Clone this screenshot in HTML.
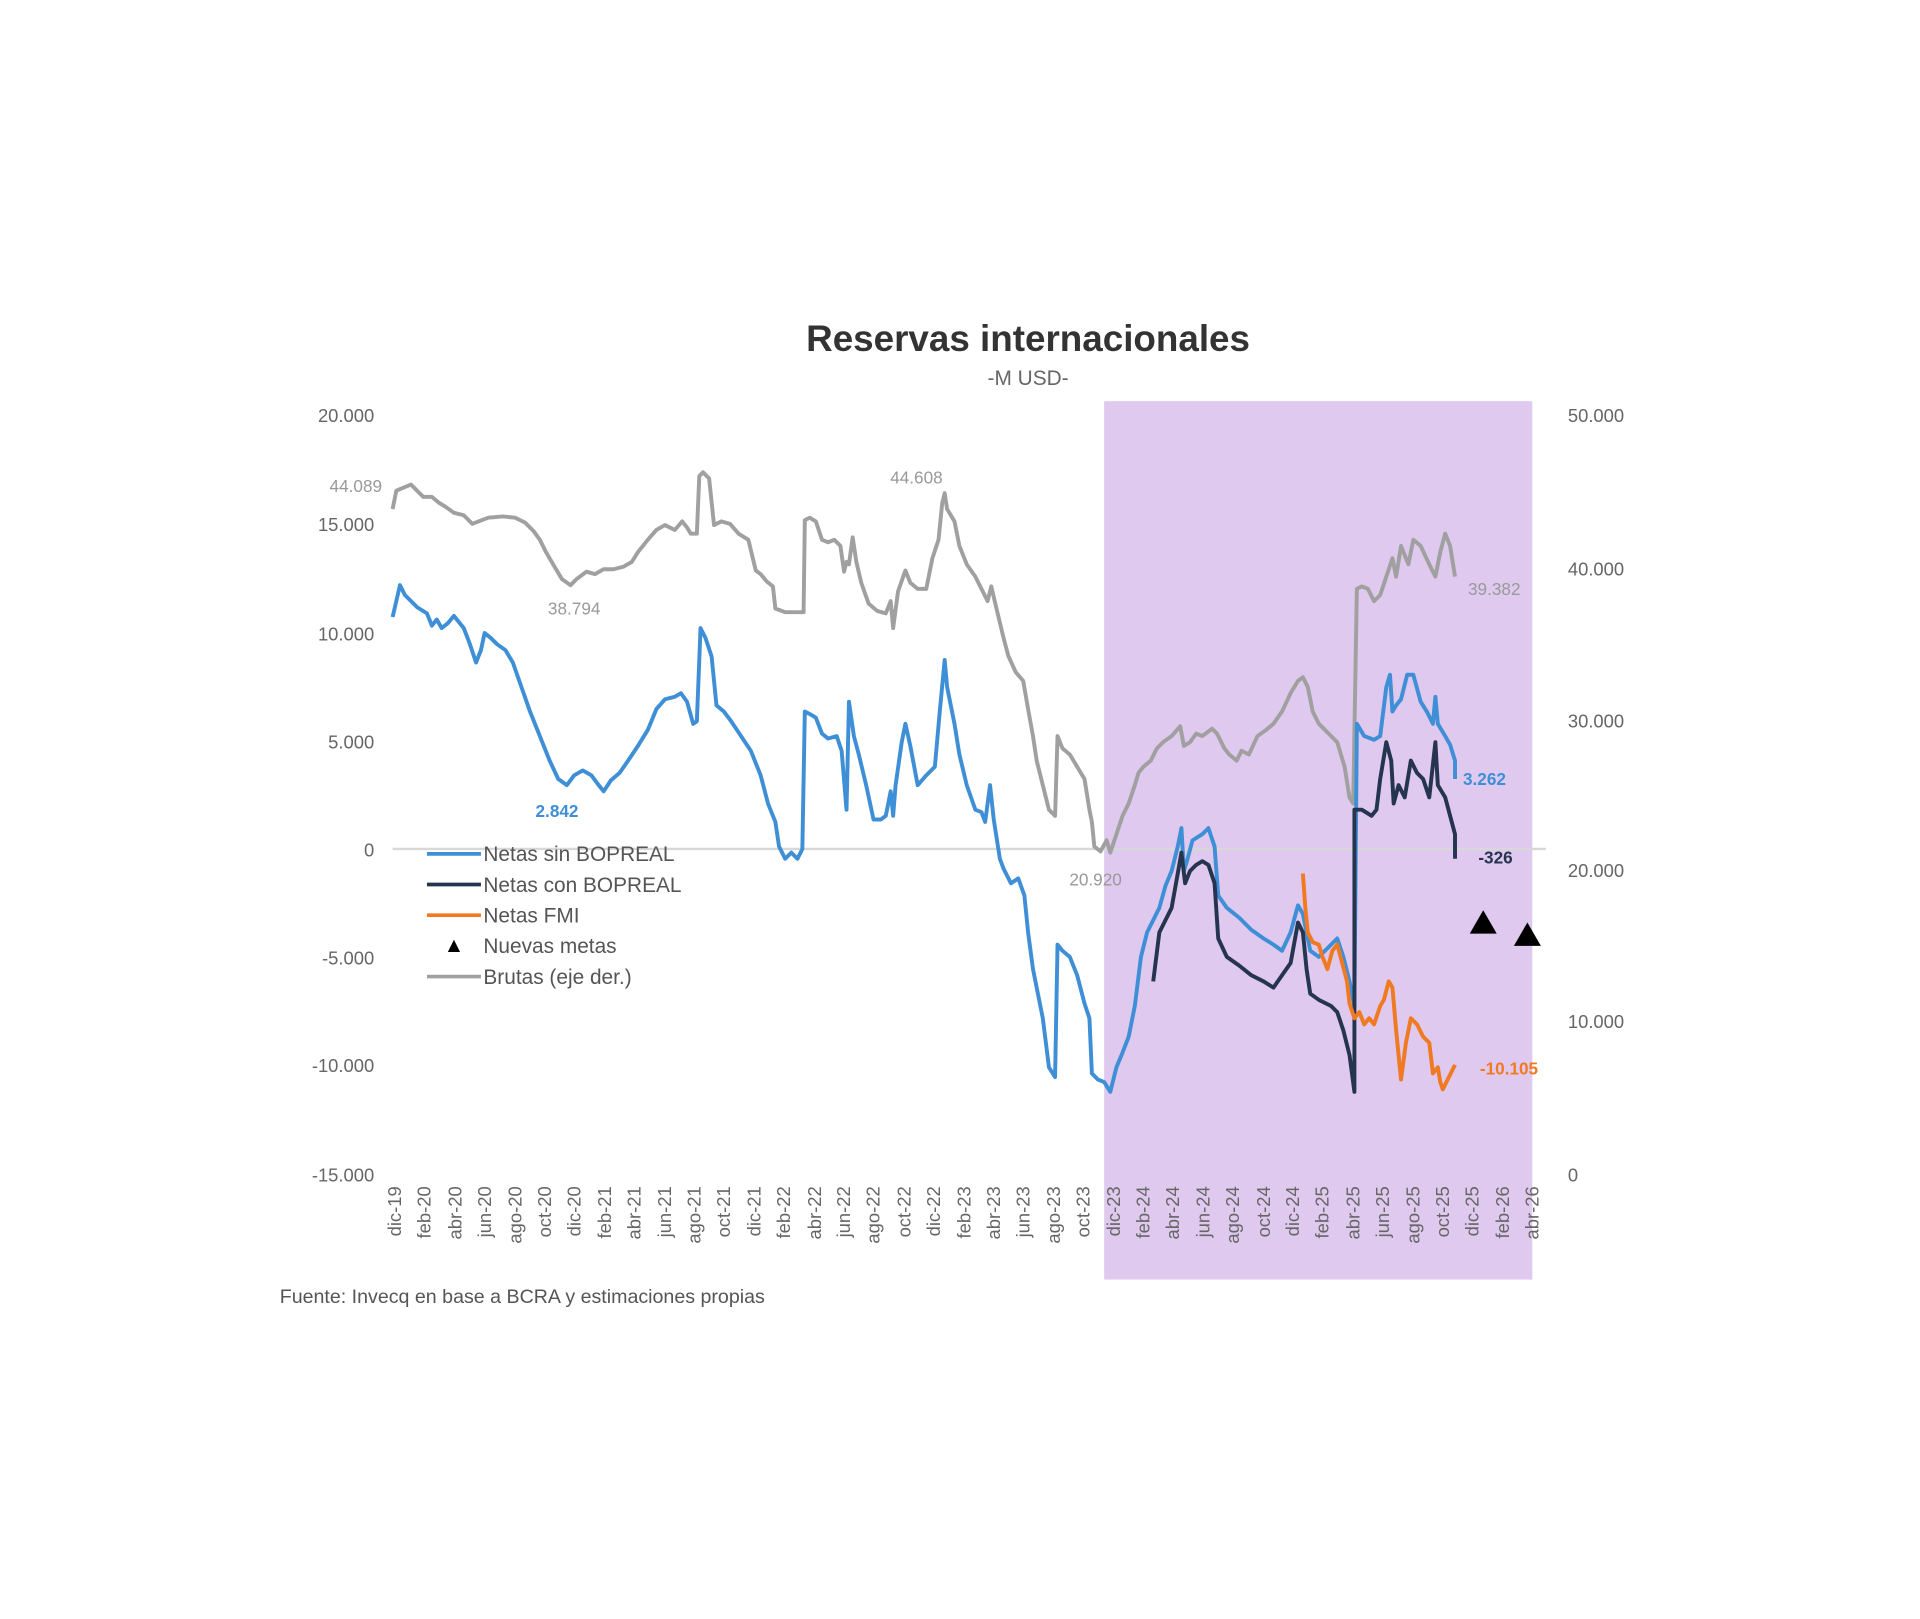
<!DOCTYPE html>
<html><head><meta charset="utf-8"><style>
html,body{margin:0;padding:0;background:#fff;width:1920px;height:1619px;overflow:hidden}
svg{display:block}
text{font-family:"Liberation Sans",sans-serif}
</style></head><body>
<svg width="1920" height="1619" viewBox="0 0 1565 1319.7" xmlns="http://www.w3.org/2000/svg">
<rect x="900" y="327" width="349" height="716" fill="#dfc9ee"/>
<text x="838" y="286" text-anchor="middle" font-size="30" font-weight="bold" fill="#333">Reservas internacionales</text>
<text x="838" y="314" text-anchor="middle" font-size="17" fill="#666">-M USD-</text>
<g font-size="15" fill="#666" text-anchor="end">
<text x="305" y="344">20.000</text><text x="305" y="433">15.000</text><text x="305" y="522">10.000</text>
<text x="305" y="610">5.000</text><text x="305" y="698">0</text><text x="305" y="786">-5.000</text>
<text x="305" y="874">-10.000</text><text x="305" y="963">-15.000</text>
</g>
<g font-size="15" fill="#666">
<text x="1278" y="344">50.000</text><text x="1278" y="469">40.000</text><text x="1278" y="593">30.000</text>
<text x="1278" y="715">20.000</text><text x="1278" y="838">10.000</text><text x="1278" y="963">0</text>
</g>
<line x1="320" y1="692" x2="1260" y2="692" stroke="#d8d8d8" stroke-width="2"/>
<g font-size="15" fill="#666" text-anchor="end">
<text transform="translate(327,967) rotate(-90)">dic-19</text>
<text transform="translate(351,967) rotate(-90)">feb-20</text>
<text transform="translate(376,967) rotate(-90)">abr-20</text>
<text transform="translate(400,967) rotate(-90)">jun-20</text>
<text transform="translate(425,967) rotate(-90)">ago-20</text>
<text transform="translate(449,967) rotate(-90)">oct-20</text>
<text transform="translate(473,967) rotate(-90)">dic-20</text>
<text transform="translate(498,967) rotate(-90)">feb-21</text>
<text transform="translate(522,967) rotate(-90)">abr-21</text>
<text transform="translate(547,967) rotate(-90)">jun-21</text>
<text transform="translate(571,967) rotate(-90)">ago-21</text>
<text transform="translate(595,967) rotate(-90)">oct-21</text>
<text transform="translate(620,967) rotate(-90)">dic-21</text>
<text transform="translate(644,967) rotate(-90)">feb-22</text>
<text transform="translate(669,967) rotate(-90)">abr-22</text>
<text transform="translate(693,967) rotate(-90)">jun-22</text>
<text transform="translate(717,967) rotate(-90)">ago-22</text>
<text transform="translate(742,967) rotate(-90)">oct-22</text>
<text transform="translate(766,967) rotate(-90)">dic-22</text>
<text transform="translate(791,967) rotate(-90)">feb-23</text>
<text transform="translate(815,967) rotate(-90)">abr-23</text>
<text transform="translate(839,967) rotate(-90)">jun-23</text>
<text transform="translate(864,967) rotate(-90)">ago-23</text>
<text transform="translate(888,967) rotate(-90)">oct-23</text>
<text transform="translate(913,967) rotate(-90)">dic-23</text>
<text transform="translate(937,967) rotate(-90)">feb-24</text>
<text transform="translate(961,967) rotate(-90)">abr-24</text>
<text transform="translate(986,967) rotate(-90)">jun-24</text>
<text transform="translate(1010,967) rotate(-90)">ago-24</text>
<text transform="translate(1035,967) rotate(-90)">oct-24</text>
<text transform="translate(1059,967) rotate(-90)">dic-24</text>
<text transform="translate(1083,967) rotate(-90)">feb-25</text>
<text transform="translate(1108,967) rotate(-90)">abr-25</text>
<text transform="translate(1132,967) rotate(-90)">jun-25</text>
<text transform="translate(1157,967) rotate(-90)">ago-25</text>
<text transform="translate(1181,967) rotate(-90)">oct-25</text>
<text transform="translate(1205,967) rotate(-90)">dic-25</text>
<text transform="translate(1230,967) rotate(-90)">feb-26</text>
<text transform="translate(1254,967) rotate(-90)">abr-26</text>
</g>
<g fill="none" stroke-width="3.2" stroke-linejoin="round">
<polyline stroke="#a0a0a0" points="320,415 323,400 330,397 335,395 340,400 345,405 352,405 358,410 363,413 370,418 378,420 385,427 390,425 398,422 410,421 420,422 428,426 435,433 440,440 445,450 452,462 458,472 465,477 470,472 478,466 485,468 492,464 500,464 508,462 515,458 520,450 528,440 535,432 542,428 550,432 556,425 560,430 563,435 568,435 570,388 573,385 578,390 582,428 588,425 595,427 602,435 610,440 616,465 620,468 625,474 630,478 632,496 640,499 648,499 655,499 656,424 660,422 665,425 670,440 675,442 680,440 685,445 688,466 690,458 692,460 695,438 698,458 702,475 708,492 715,498 722,500 726,490 728,512 732,482 738,465 742,475 748,480 755,480 760,455 765,440 768,410 770,402 772,415 778,425 782,445 788,460 795,470 800,480 805,490 808,478 812,495 818,520 822,535 828,548 834,555 838,578 842,600 845,620 850,640 855,660 860,665 862,600 866,610 872,615 878,625 884,635 888,660 890,670 892,690 897,694 902,685 905,695 910,680 915,665 920,655 925,640 928,630 932,625 938,620 943,610 948,605 955,600 962,592 965,608 970,605 975,598 980,600 988,594 992,598 998,610 1002,615 1008,620 1012,612 1018,615 1025,600 1032,595 1038,590 1045,580 1052,565 1058,555 1062,552 1066,560 1070,580 1075,590 1082,597 1090,605 1096,625 1100,650 1103,655 1106,480 1110,478 1115,480 1120,490 1125,485 1130,470 1135,455 1138,470 1142,445 1148,460 1152,440 1158,445 1165,460 1170,470 1174,450 1178,435 1182,445 1186,470"/>
<polyline stroke="#3f8fd6" points="320,503 323,490 326,477 330,485 335,490 340,495 348,500 352,510 356,505 360,512 365,508 370,502 378,512 383,525 388,540 392,530 395,516 400,520 405,525 412,530 418,540 425,560 432,580 440,600 448,620 455,635 462,640 468,632 475,628 482,632 488,640 492,645 498,636 505,630 512,620 520,608 528,595 535,578 542,570 550,568 555,565 560,572 565,590 568,588 571,512 575,520 580,535 584,575 590,580 596,588 604,600 612,612 620,632 626,655 632,670 635,690 640,700 645,695 650,700 654,692 656,580 660,582 665,585 670,598 675,602 682,600 686,612 690,660 692,572 696,600 700,615 706,640 712,668 718,668 722,665 726,645 728,665 730,640 735,605 738,590 742,608 748,640 755,632 762,625 766,580 770,538 772,560 778,590 782,615 788,640 795,660 800,662 803,670 807,640 810,668 815,700 818,708 824,720 830,716 835,730 838,760 842,790 846,810 850,830 855,870 860,878 862,770 866,775 872,780 878,795 884,818 888,830 890,875 895,880 900,882 905,890 910,870 915,858 920,845 925,820 930,780 935,760 940,750 945,740 950,722 955,710 960,690 963,675 965,710 968,700 972,685 980,680 985,675 990,690 993,730 1000,740 1010,748 1020,758 1030,765 1038,770 1045,775 1052,760 1058,738 1062,745 1065,760 1068,775 1075,780 1085,770 1090,765 1095,780 1100,800 1104,820 1106,590 1112,600 1120,603 1125,600 1130,560 1133,550 1135,580 1138,575 1142,570 1147,550 1152,550 1158,572 1163,580 1168,590 1170,568 1172,590 1178,600 1182,607 1186,620 1186,635"/>
<polyline stroke="#26354f" points="940,800 945,760 950,750 955,740 960,712 963,695 966,720 970,710 975,705 980,702 985,705 990,720 993,765 1000,780 1010,787 1020,795 1030,800 1038,805 1045,795 1052,785 1058,752 1062,760 1065,790 1068,810 1075,815 1085,820 1090,825 1095,840 1100,860 1104,890 1104,660 1110,660 1118,665 1122,660 1125,635 1130,605 1134,620 1136,655 1140,640 1145,650 1150,620 1155,630 1160,635 1165,650 1170,605 1172,640 1178,650 1182,665 1186,680 1186,700"/>
<polyline stroke="#ef7a22" points="1062,712 1064,740 1066,760 1070,768 1075,770 1078,780 1082,790 1086,775 1090,770 1094,785 1098,800 1100,818 1104,830 1108,825 1112,835 1116,830 1120,835 1125,820 1128,815 1132,800 1135,805 1138,840 1142,880 1146,850 1150,830 1155,835 1160,845 1165,850 1168,875 1172,870 1174,882 1176,888 1180,880 1186,868"/>
</g>
<polygon points="1209,742 1198,761 1220,761" fill="#000"/>
<polygon points="1245,752 1234,771 1256,771" fill="#000"/>
<g font-size="14">
<text x="290" y="401" text-anchor="middle" fill="#999">44.089</text>
<text x="468" y="501" text-anchor="middle" fill="#999">38.794</text>
<text x="747" y="394" text-anchor="middle" fill="#999">44.608</text>
<text x="893" y="722" text-anchor="middle" fill="#999">20.920</text>
<text x="1218" y="485" text-anchor="middle" fill="#999">39.382</text>
<text x="454" y="666" text-anchor="middle" fill="#3f8fd6" font-weight="bold">2.842</text>
<text x="1210" y="640" text-anchor="middle" fill="#3f8fd6" font-weight="bold">3.262</text>
<text x="1219" y="704" text-anchor="middle" fill="#26354f" font-weight="bold">-326</text>
<text x="1230" y="876" text-anchor="middle" fill="#ef7a22" font-weight="bold">-10.105</text>
</g>
<g stroke-width="3">
<line x1="348" y1="696" x2="392" y2="696" stroke="#3f8fd6"/>
<line x1="348" y1="721" x2="392" y2="721" stroke="#26354f"/>
<line x1="348" y1="746" x2="392" y2="746" stroke="#ef7a22"/>
<line x1="348" y1="796" x2="392" y2="796" stroke="#a0a0a0"/>
</g>
<polygon points="370,766 365,776 375,776" fill="#000"/>
<g font-size="17" fill="#555">
<text x="394" y="702">Netas sin BOPREAL</text>
<text x="394" y="727">Netas con BOPREAL</text>
<text x="394" y="752">Netas FMI</text>
<text x="394" y="777">Nuevas metas</text>
<text x="394" y="802">Brutas (eje der.)</text>
</g>
<text x="228" y="1062" font-size="16" fill="#555">Fuente: Invecq en base a BCRA y estimaciones propias</text>
</svg>
</body></html>
